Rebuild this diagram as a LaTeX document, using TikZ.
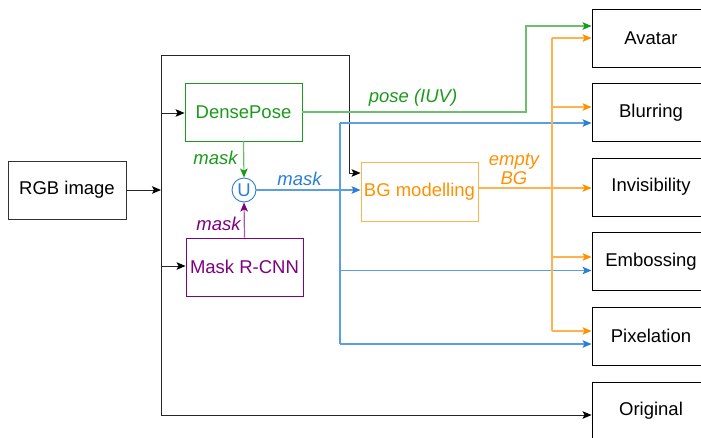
\documentclass[tikz,border=0pt]{standalone}
\usepackage{fontspec}
\setmainfont{Liberation Sans}
\usetikzlibrary{arrows.meta,positioning}

\definecolor{dpgreen}{HTML}{1A9A1A}
\definecolor{dpgreenln}{HTML}{6CC06C}
\definecolor{mrpurple}{HTML}{800080}
\definecolor{mrpurpleln}{HTML}{A95AB0}
\definecolor{unblue}{HTML}{2A7FD4}
\definecolor{unblueln}{HTML}{5B9FE3}
\definecolor{bgorange}{HTML}{FF9100}
\definecolor{bgorangeln}{HTML}{FFB24D}

\tikzset{
  font=\fontsize{18.5}{20}\selectfont,
  box/.style={draw, line width=0.9pt, minimum width=118pt, minimum height=58pt, inner sep=0pt, align=center},
  outbox/.style={box, draw=black},
  tip/.style={-{Stealth[length=9pt,width=7.5pt,inset=2pt,color=#1]}},
  blk/.style={draw=black!85, line width=1pt, tip=black},
  grn/.style={draw=dpgreenln, line width=1.2pt, tip=dpgreen},
  blu/.style={draw=unblueln, line width=1.2pt, tip=unblue},
  org/.style={draw=bgorangeln, line width=1.2pt, tip=bgorange},
  pur/.style={draw=mrpurpleln, line width=1.2pt, tip=mrpurple},
  lbl/.style={font=\fontsize{18.5}{20}\selectfont\itshape, inner sep=0pt, align=center},
}

\begin{document}
\begin{tikzpicture}[x=1pt,y=-1pt]
\clip (0,0) rectangle (701,437);

% inputs and processing blocks
\node[box, draw=black!80] (rgb) at (67,190) {RGB image};
\node[box, draw=dpgreen, text=dpgreen, minimum width=117pt] (dp) at (243.5,112) {DensePose};
\node[box, draw=mrpurple, text=mrpurple, minimum width=117pt] (mr) at (244.5,267) {Mask R-CNN};
\node[circle, draw=unblue, text=unblue, line width=0.9pt, minimum size=24pt, inner sep=0pt] (un) at (244,190) {U};
\node[box, draw=bgorangeln, text=bgorange, minimum width=117pt, minimum height=59pt] (bg) at (419.5,191.5) {BG modelling};

% output boxes
\node[outbox] (avatar) at (651,38) {Avatar};
\node[outbox] (blur) at (651,112.5) {Blurring};
\node[outbox] (invis) at (651,187) {Invisibility};
\node[outbox] (emb) at (651,261.5) {Embossing};
\node[outbox] (pix) at (651,336) {Pixelation};
\node[outbox] (orig) at (651,411) {Original};

% junction points of the trunks
\coordinate (split) at (161,190);
\coordinate (bsplit) at (340,190);
\coordinate (osplit) at (552,188);

% image distribution trunk
\draw[blk] (rgb.east) -- (split);
\draw[blk, -] (161,55) -- (161,415);
\draw[blk] (161,113) -- (dp.west |- 0,113);
\draw[blk] (161,266) -- (mr.west |- 0,266);
\draw[blk] (161,55) -- (349,55) -- (349,173) -- (bg.west |- 0,173);
\draw[blk] (161,415) -- (orig.west |- 0,415);

% masks into the union
\draw[grn] (dp.south) -- (un.north);
\draw[pur] (mr.north) -- (un.south);
\node[lbl, text=dpgreen] at (215.5,158) {mask};
\node[lbl, text=mrpurple] at (218.5,224) {mask};

% union mask to background model and outputs
\draw[blu] (un.east) -- (bg.west |- un);
\node[lbl, text=unblue] at (299.5,179) {mask};
\draw[blu, -] (340,123) -- (340,344);
\draw[blu] (340,123) -- (blur.west |- 0,123);
\draw[blu] (340,270.5) -- (emb.west |- 0,270.5);
\draw[blu] (340,344) -- (pix.west |- 0,344);

% pose to avatar
\draw[grn] (dp.east) -- (526,112) -- (526,26) -- (avatar.west |- 0,26);
\node[lbl, text=dpgreen] at (413,98) {pose (IUV)};

% empty background to outputs
\draw[org] (bg.east |- osplit) -- (invis.west |- osplit);
\node[lbl, text=bgorange, font=\fontsize{18.5}{18.5}\selectfont\itshape] at (514,169) {empty\\BG};
\draw[org, -] (552,38) -- (552,331);
\draw[org] (552,38) -- (avatar.west |- 0,38);
\draw[org] (552,107) -- (blur.west |- 0,107);
\draw[org] (552,257) -- (emb.west |- 0,257);
\draw[org] (552,331) -- (pix.west |- 0,331);
\end{tikzpicture}
\end{document}
